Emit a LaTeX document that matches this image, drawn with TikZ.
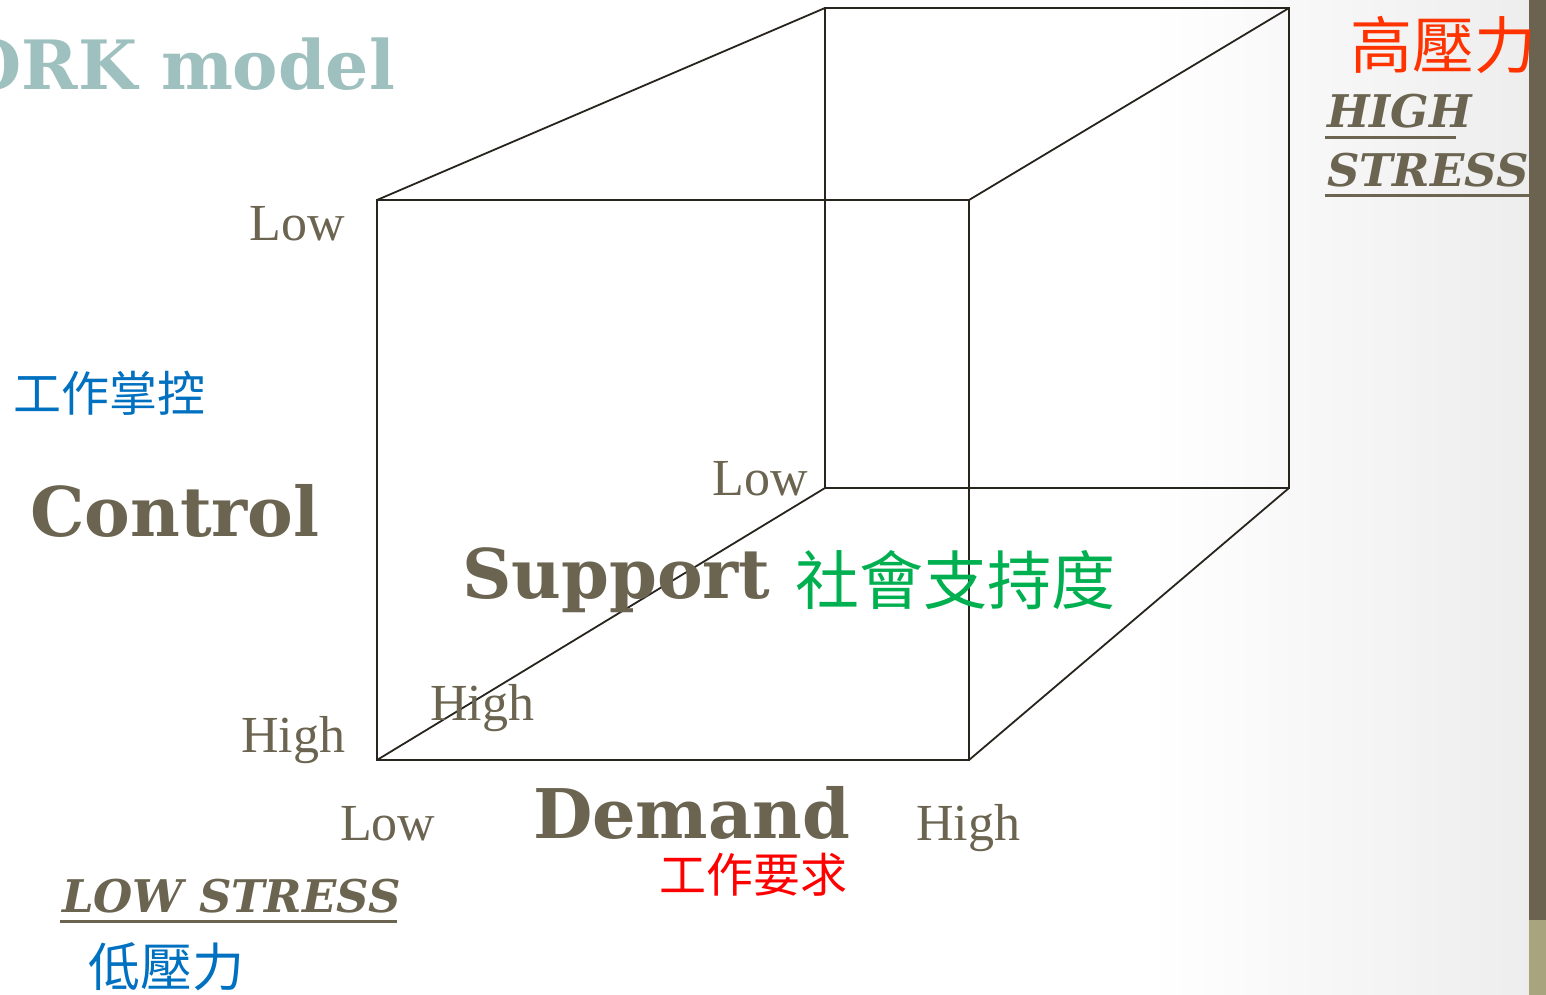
\documentclass[tikz,border=0pt]{standalone}
\usepackage{fontspec}
\setmainfont{Liberation Serif}
\newfontfamily\slabfont{DejaVu Serif}
\newfontfamily\cjkfont{Noto Sans CJK TC}
\definecolor{olive}{RGB}{107,100,80}
\definecolor{titleteal}{RGB}{158,192,191}
\definecolor{cjkblue}{RGB}{0,112,192}
\definecolor{cjkgreen}{RGB}{0,176,80}
\definecolor{cjkred}{RGB}{255,0,0}
\definecolor{cjkorange}{RGB}{255,51,0}
\definecolor{bardark}{RGB}{107,99,80}
\definecolor{barlight}{RGB}{168,164,126}
\definecolor{edgecol}{RGB}{40,36,30}
\begin{document}
\begin{tikzpicture}[x=1pt,y=-1pt,
  every node/.style={inner sep=0pt, outer sep=0pt},
  scalelabel/.style={font=\fontsize{52}{52}\selectfont, text=olive},
  axislabel/.style={font=\slabfont\bfseries\fontsize{68.5}{68.5}\selectfont, text=olive},
  stresslabel/.style={font=\slabfont\bfseries\itshape\fontsize{45}{45}\selectfont, text=olive},
  cubeedge/.style={draw=edgecol, line width=1.8pt},
  uline/.style={draw=olive, line width=3pt}]
\useasboundingbox (0,0) rectangle (1546,995);
\clip (0,0) rectangle (1546,995);
% background
\fill[white] (0,0) rectangle (1529,995);
\shade[left color=white, right color=black!7] (1150,0) rectangle (1529,995);
\fill[bardark] (1529,0) rectangle (1546,920);
\fill[barlight] (1529,920) rectangle (1546,995);
% title fragment
\node[anchor=base east, font=\slabfont\bfseries\fontsize{68}{68}\selectfont, text=titleteal] (title) at (395,90) {WORK model};
% cube corners
\coordinate (ftl) at (377,200);
\coordinate (ftr) at (969,200);
\coordinate (fbl) at (377,760);
\coordinate (fbr) at (969,760);
\coordinate (btl) at (825,8);
\coordinate (btr) at (1289,8);
\coordinate (bbl) at (825,488);
\coordinate (bbr) at (1289,488);
% back face
\draw[cubeedge] (btl) -- (btr) -- (bbr) -- (bbl) -- cycle;
% connecting edges
\draw[cubeedge] (ftl) -- (btl);
\draw[cubeedge] (ftr) -- (btr);
\draw[cubeedge] (fbl) -- (bbl);
\draw[cubeedge] (fbr) -- (bbr);
% front face
\draw[cubeedge] (ftl) -- (ftr) -- (fbr) -- (fbl) -- cycle;
% scale labels
\node[scalelabel, anchor=base east] (ctllow) at (345,240) {Low};
\node[scalelabel, anchor=base east] (ctlhigh) at (345,752) {High};
\node[scalelabel, anchor=base east] (suplow) at (808,495) {Low};
\node[scalelabel, anchor=base west] (suphigh) at (430,720) {High};
\node[scalelabel, anchor=base west] (demlow) at (340,840) {Low};
\node[scalelabel, anchor=base west] (demhigh) at (916,840) {High};
% axis labels
\node[axislabel, anchor=base west] (demand) at (533,838) {Demand};
\node[font=\cjkfont\fontsize{47}{47}\selectfont, text=cjkred] (demandzh) at (753,875) {工作要求};
\node[axislabel, anchor=base west] (control) at (30,536) {Control};
\node[font=\cjkfont\fontsize{48}{48}\selectfont, text=cjkblue] (controlzh) at (109,393) {工作掌控};
\node[axislabel, anchor=base west] (support) at (462,598) {Support};
\node[font=\cjkfont\fontsize{64}{64}\selectfont, text=cjkgreen, anchor=west] (supportzh) at (795,580) {社會支持度};
% stress labels
\node[font=\cjkfont\fontsize{62}{62}\selectfont, text=cjkorange, anchor=west] (highzh) at (1350,45) {高壓力};
\node[stresslabel, anchor=base west] (high1) at (1327,128) {HIGH};
\node[stresslabel, anchor=base west] (high2) at (1327,186) {STRESS};
\draw[uline] (1325,138) -- (1456,138);
\draw[uline] (1325,195) -- (1530,195);
\node[stresslabel, anchor=base west] (low) at (62,912) {LOW STRESS};
\draw[uline] (60,921) -- (397,921);
\node[font=\cjkfont\fontsize{52}{52}\selectfont, text=cjkblue, anchor=west] (lowzh) at (88,967) {低壓力};
\end{tikzpicture}
\end{document}
